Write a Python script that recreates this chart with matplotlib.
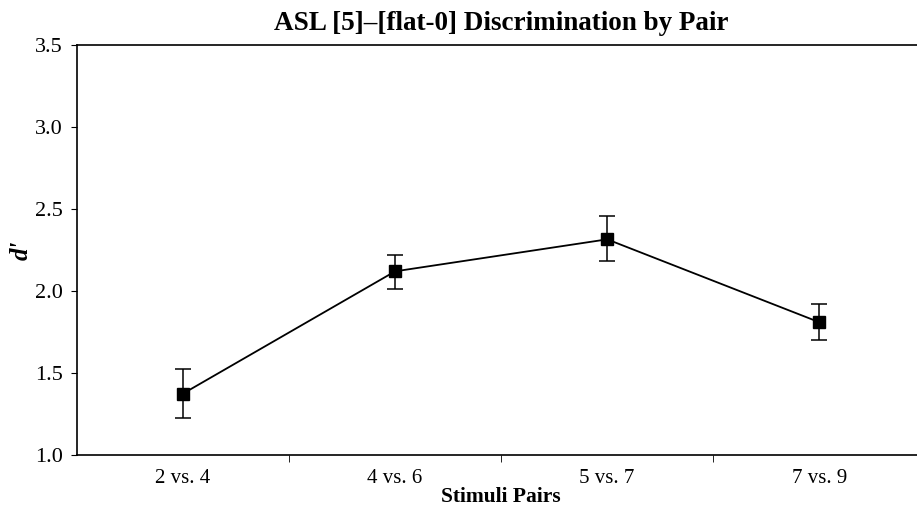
import matplotlib
matplotlib.use('Agg')
import matplotlib.pyplot as plt

pairs = ['2 vs. 4', '4 vs. 6', '5 vs. 7', '7 vs. 9']
dprime = [1.375, 2.12, 2.315, 1.81]
err_lo = [0.15, 0.11, 0.135, 0.11]
err_hi = [0.15, 0.10, 0.14, 0.11]

plt.rcParams['font.family'] = ['Liberation Serif', 'DejaVu Serif']

fig = plt.figure(figsize=(9.17, 5.16), dpi=100)
ax = fig.add_axes([0.084, 0.118, 0.925, 0.795])

x = list(range(len(pairs)))
ax.errorbar(x, dprime, yerr=[err_lo, err_hi], color='black', lw=1.3,
            marker='s', markersize=8, capsize=6, elinewidth=1.1, capthick=1.1)

ax.set_xlim(-0.5, len(pairs) - 0.5)
ax.set_ylim(1.0, 3.5)
ax.set_yticks([1.0, 1.5, 2.0, 2.5, 3.0, 3.5])
ax.set_yticklabels(['1.0', '1.5', '2.0', '2.5', '3.0', '3.5'], fontsize=16)
ax.set_xticks(x)
ax.set_xticklabels(pairs, fontsize=15)
ax.tick_params(axis='x', length=0, pad=10)
ax.set_xticks([0.5, 1.5, 2.5], minor=True)
ax.tick_params(axis='x', which='minor', length=5, direction='out')
ax.tick_params(axis='y', length=4, direction='out', pad=6)

ax.spines['right'].set_visible(False)
for s in ['top', 'left', 'bottom']:
    ax.spines[s].set_linewidth(1.2)

ax.set_title('ASL [5]–[flat-0] Discrimination by Pair', fontsize=19.5,
             fontweight='bold', pad=11)
ax.set_xlabel('Stimuli Pairs', fontsize=15.5, fontweight='bold', labelpad=-1)
ax.set_ylabel("d'", fontsize=18, fontweight='bold', style='italic')
ax.yaxis.set_label_coords(-0.052, 0.5)

fig.savefig('out.png', dpi=100)
